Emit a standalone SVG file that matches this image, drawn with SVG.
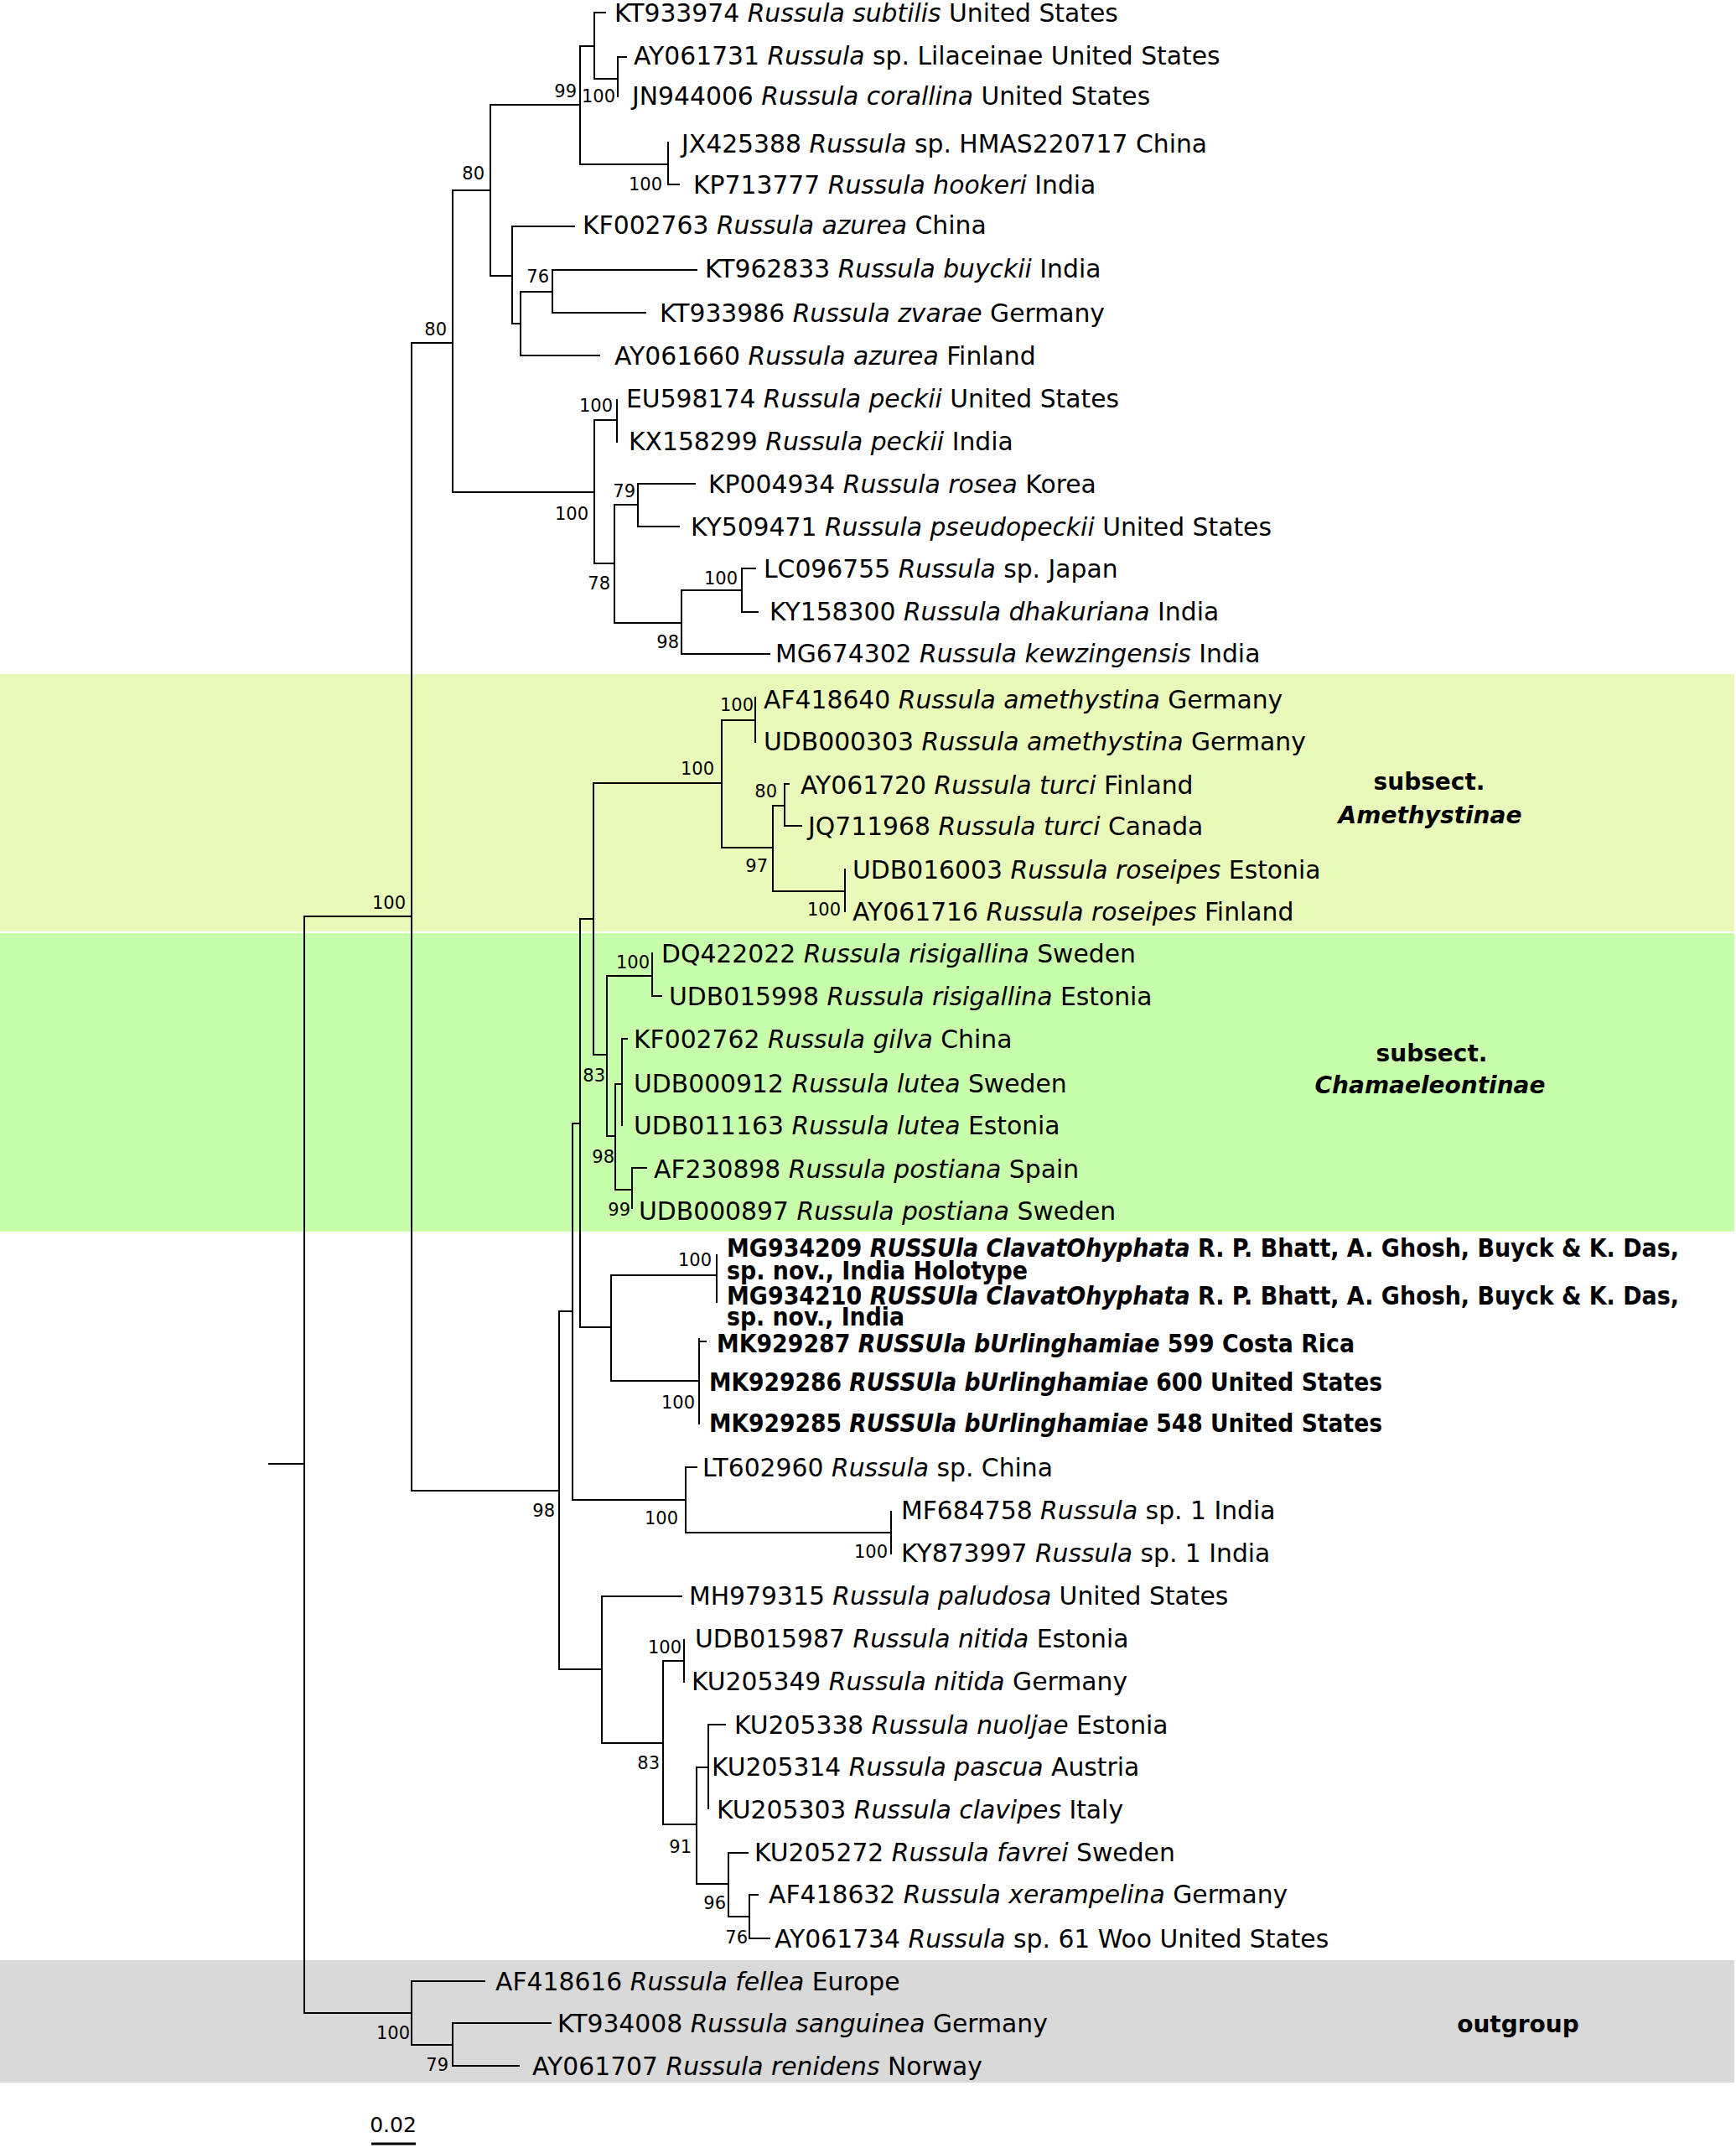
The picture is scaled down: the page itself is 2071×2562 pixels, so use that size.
<svg xmlns="http://www.w3.org/2000/svg" width="2071" height="2562" viewBox="0 0 2071 2562">
<style>
.e{stroke:#000;stroke-width:2;fill:none;stroke-linecap:square}
.lab{font-family:"DejaVu Sans","Liberation Sans",sans-serif;font-size:29.8px;fill:#000}
.it{font-style:italic}
.bd{font-family:"DejaVu Sans Condensed","DejaVu Sans",sans-serif;font-weight:bold;font-stretch:condensed;font-size:30px;fill:#000}
.sup{font-family:"DejaVu Sans","Liberation Sans",sans-serif;font-size:21px;text-anchor:end;fill:#000}
.cl{font-family:"DejaVu Sans","Liberation Sans",sans-serif;font-weight:bold;font-size:28px;text-anchor:middle;fill:#000}
</style>
<rect width="2071" height="2562" fill="#fff"/>
<g id="bands">
<rect x="0" y="804" width="2069" height="307" fill="#e9f9ba"/>
<rect x="0" y="1113" width="2069" height="356" fill="#c8fdab"/>
<rect x="0" y="2338" width="2069" height="146" fill="#d9d9d9"/>
</g>
<g id="connectors" class="e">
<path d="M321,1746H363M363,1093V2401M363,1093H491M491,409V1778M363,2401H491M491,2363V2439"/>
<path d="M491,409H540M540,227V587M540,227H585M585,125V329M585,125H692M692,55V196M692,55H709M709,15V94M709,15H722M709,94H737M737,68V115M737,68H747M692,196H797M797,170V220M797,220H810"/>
<path d="M585,329H611M611,270V386M611,270H685M611,386H621M621,348V424M621,348H659M659,322V373M659,322H831M659,373H770M621,424H715"/>
<path d="M540,587H709M709,501V672M709,501H736M736,477V527M709,672H733M733,602V743M733,602H761M761,577V628M761,577H829M761,628H810M733,743H813M813,704V780M813,704H885M885,678V730M885,678H901M885,730H904M813,780H918"/>
<path d="M491,1778H667M667,1564V1991M667,1564H683M683,1340V1789M683,1340H692M692,1096V1583M692,1096H708M708,934V1258"/>
<path d="M708,934H861M861,859V1011M861,859H901M901,832V885M861,1011H922M922,961V1063M922,961H936M936,935V985M936,935H941M936,985H956M922,1063H1008M1008,1037V1087"/>
<path d="M708,1258H724M724,1164V1355M724,1164H778M778,1137V1188M778,1188H789M724,1355H734M734,1293V1419M734,1293H742M742,1239V1342M742,1239H748M734,1419H754M754,1393V1441M754,1393H771"/>
<path d="M692,1583H729M729,1521V1647M729,1521H855M855,1497V1553M729,1647H834M834,1597V1698M834,1600H842"/>
<path d="M683,1789H818M818,1750V1828M818,1750H831M818,1828H1063M1063,1803V1853"/>
<path d="M667,1991H718M718,1904V2079M718,1904H813M718,2079H791M791,1981V2176M791,1981H816M816,1956V2006M791,2176H831M831,2108V2247M831,2108H845M845,2057V2157M845,2057H865M831,2247H869M869,2210V2286M869,2210H892M869,2286H894M894,2260V2312M894,2260H904M894,2312H918"/>
<path d="M491,2363H578M491,2439H540M540,2413V2464M540,2413H657M540,2464H619"/>
</g>
<g id="leaves">
<g id="n1"><text class="lab" x="733" y="26">KT933974 <tspan class="it">Russula subtilis</tspan> United States</text></g>
<g id="n2"><text class="lab" x="756" y="77">AY061731 <tspan class="it">Russula</tspan> sp. Lilaceinae United States</text></g>
<g id="n3"><text class="lab" x="754" y="125">JN944006 <tspan class="it">Russula corallina</tspan> United States</text></g>
<g id="n4"><text class="lab" x="813" y="182">JX425388 <tspan class="it">Russula</tspan> sp. HMAS220717 China</text></g>
<g id="n5"><text class="lab" x="827" y="231">KP713777 <tspan class="it">Russula hookeri</tspan> India</text></g>
<g id="n6"><text class="lab" x="695" y="279">KF002763 <tspan class="it">Russula azurea</tspan> China</text></g>
<g id="n7"><text class="lab" x="841" y="331">KT962833 <tspan class="it">Russula buyckii</tspan> India</text></g>
<g id="n8"><text class="lab" x="787" y="384">KT933986 <tspan class="it">Russula zvarae</tspan> Germany</text></g>
<g id="n9"><text class="lab" x="733" y="435">AY061660 <tspan class="it">Russula azurea</tspan> Finland</text></g>
<g id="n10"><text class="lab" x="747" y="486">EU598174 <tspan class="it">Russula peckii</tspan> United States</text></g>
<g id="n11"><text class="lab" x="750" y="537">KX158299 <tspan class="it">Russula peckii</tspan> India</text></g>
<g id="n12"><text class="lab" x="845" y="588">KP004934 <tspan class="it">Russula rosea</tspan> Korea</text></g>
<g id="n13"><text class="lab" x="824" y="639">KY509471 <tspan class="it">Russula pseudopeckii</tspan> United States</text></g>
<g id="n14"><text class="lab" x="911" y="689">LC096755 <tspan class="it">Russula</tspan> sp. Japan</text></g>
<g id="n15"><text class="lab" x="918" y="740">KY158300 <tspan class="it">Russula dhakuriana</tspan> India</text></g>
<g id="n16"><text class="lab" x="925" y="790">MG674302 <tspan class="it">Russula kewzingensis</tspan> India</text></g>
<g id="n17"><text class="lab" x="911" y="845">AF418640 <tspan class="it">Russula amethystina</tspan> Germany</text></g>
<g id="n18"><text class="lab" x="911" y="895">UDB000303 <tspan class="it">Russula amethystina</tspan> Germany</text></g>
<g id="n19"><text class="lab" x="955" y="947">AY061720 <tspan class="it">Russula turci</tspan> Finland</text></g>
<g id="n20"><text class="lab" x="964" y="996">JQ711968 <tspan class="it">Russula turci</tspan> Canada</text></g>
<g id="n21"><text class="lab" x="1017" y="1048">UDB016003 <tspan class="it">Russula roseipes</tspan> Estonia</text></g>
<g id="n22"><text class="lab" x="1017" y="1098">AY061716 <tspan class="it">Russula roseipes</tspan> Finland</text></g>
<g id="n23"><text class="lab" x="789" y="1148">DQ422022 <tspan class="it">Russula risigallina</tspan> Sweden</text></g>
<g id="n24"><text class="lab" x="798" y="1199">UDB015998 <tspan class="it">Russula risigallina</tspan> Estonia</text></g>
<g id="n25"><text class="lab" x="756" y="1250">KF002762 <tspan class="it">Russula gilva</tspan> China</text></g>
<g id="n26"><text class="lab" x="756" y="1303">UDB000912 <tspan class="it">Russula lutea</tspan> Sweden</text></g>
<g id="n27"><text class="lab" x="756" y="1353">UDB011163 <tspan class="it">Russula lutea</tspan> Estonia</text></g>
<g id="n28"><text class="lab" x="780" y="1405">AF230898 <tspan class="it">Russula postiana</tspan> Spain</text></g>
<g id="n29"><text class="lab" x="762" y="1455">UDB000897 <tspan class="it">Russula postiana</tspan> Sweden</text></g>
<g id="n30"><text class="bd" x="867" y="1499" textLength="1136" lengthAdjust="spacingAndGlyphs">MG934209 <tspan class="it">RUSSUla ClavatOhyphata</tspan> R. P. Bhatt, A. Ghosh, Buyck &amp; K. Das,</text>
<text class="bd" x="867" y="1526" textLength="359" lengthAdjust="spacingAndGlyphs">sp. nov., India Holotype</text></g>
<g id="n31"><text class="bd" x="867" y="1556" textLength="1136" lengthAdjust="spacingAndGlyphs">MG934210 <tspan class="it">RUSSUla ClavatOhyphata</tspan> R. P. Bhatt, A. Ghosh, Buyck &amp; K. Das,</text>
<text class="bd" x="867" y="1581" textLength="212" lengthAdjust="spacingAndGlyphs">sp. nov., India</text></g>
<g id="n32"><text class="bd" x="855" y="1613" textLength="761" lengthAdjust="spacingAndGlyphs">MK929287 <tspan class="it">RUSSUla bUrlinghamiae</tspan> 599 Costa Rica</text></g>
<g id="n33"><text class="bd" x="846" y="1659" textLength="803" lengthAdjust="spacingAndGlyphs">MK929286 <tspan class="it">RUSSUla bUrlinghamiae</tspan> 600 United States</text></g>
<g id="n34"><text class="bd" x="846" y="1708" textLength="803" lengthAdjust="spacingAndGlyphs">MK929285 <tspan class="it">RUSSUla bUrlinghamiae</tspan> 548 United States</text></g>
<g id="n35"><text class="lab" x="838" y="1761">LT602960 <tspan class="it">Russula</tspan> sp. China</text></g>
<g id="n36"><text class="lab" x="1075" y="1812">MF684758 <tspan class="it">Russula</tspan> sp. 1 India</text></g>
<g id="n37"><text class="lab" x="1075" y="1863">KY873997 <tspan class="it">Russula</tspan> sp. 1 India</text></g>
<g id="n38"><text class="lab" x="822" y="1914">MH979315 <tspan class="it">Russula paludosa</tspan> United States</text></g>
<g id="n39"><text class="lab" x="829" y="1965">UDB015987 <tspan class="it">Russula nitida</tspan> Estonia</text></g>
<g id="n40"><text class="lab" x="825" y="2016">KU205349 <tspan class="it">Russula nitida</tspan> Germany</text></g>
<g id="n41"><text class="lab" x="876" y="2068">KU205338 <tspan class="it">Russula nuoljae</tspan> Estonia</text></g>
<g id="n42"><text class="lab" x="849" y="2118">KU205314 <tspan class="it">Russula pascua</tspan> Austria</text></g>
<g id="n43"><text class="lab" x="855" y="2169">KU205303 <tspan class="it">Russula clavipes</tspan> Italy</text></g>
<g id="n44"><text class="lab" x="900" y="2220">KU205272 <tspan class="it">Russula favrei</tspan> Sweden</text></g>
<g id="n45"><text class="lab" x="917" y="2270">AF418632 <tspan class="it">Russula xerampelina</tspan> Germany</text></g>
<g id="n46"><text class="lab" x="924" y="2323">AY061734 <tspan class="it">Russula</tspan> sp. 61 Woo United States</text></g>
<g id="n47"><text class="lab" x="591" y="2374">AF418616 <tspan class="it">Russula fellea</tspan> Europe</text></g>
<g id="n48"><text class="lab" x="665" y="2424">KT934008 <tspan class="it">Russula sanguinea</tspan> Germany</text></g>
<g id="n49"><text class="lab" x="635" y="2475">AY061707 <tspan class="it">Russula renidens</tspan> Norway</text></g>
</g>
<g id="support">
<text class="sup" x="688" y="116">99</text>
<text class="sup" x="734" y="122">100</text>
<text class="sup" x="790" y="227">100</text>
<text class="sup" x="578" y="214">80</text>
<text class="sup" x="655" y="337">76</text>
<text class="sup" x="533" y="400">80</text>
<text class="sup" x="731" y="491">100</text>
<text class="sup" x="702" y="620">100</text>
<text class="sup" x="758" y="593">79</text>
<text class="sup" x="728" y="703">78</text>
<text class="sup" x="880" y="697">100</text>
<text class="sup" x="810" y="773">98</text>
<text class="sup" x="484" y="1084">100</text>
<text class="sup" x="899" y="848">100</text>
<text class="sup" x="852" y="924">100</text>
<text class="sup" x="927" y="951">80</text>
<text class="sup" x="916" y="1040">97</text>
<text class="sup" x="1003" y="1092">100</text>
<text class="sup" x="775" y="1155">100</text>
<text class="sup" x="722" y="1290">83</text>
<text class="sup" x="733" y="1387">98</text>
<text class="sup" x="752" y="1450">99</text>
<text class="sup" x="849" y="1510">100</text>
<text class="sup" x="829" y="1680">100</text>
<text class="sup" x="662" y="1809">98</text>
<text class="sup" x="809" y="1818">100</text>
<text class="sup" x="1059" y="1858">100</text>
<text class="sup" x="813" y="1972">100</text>
<text class="sup" x="787" y="2110">83</text>
<text class="sup" x="825" y="2210">91</text>
<text class="sup" x="866" y="2277">96</text>
<text class="sup" x="892" y="2318">76</text>
<text class="sup" x="489" y="2432">100</text>
<text class="sup" x="535" y="2470">79</text>
</g>
<g id="clades">
<g id="amethystinae"><text class="cl" x="1705" y="942">subsect.</text><text class="cl" x="1706" y="982"><tspan font-style="italic">Amethystinae</tspan></text></g>
<g id="chamaeleontinae"><text class="cl" x="1708" y="1266">subsect.</text><text class="cl" x="1706" y="1304"><tspan font-style="italic">Chamaeleontinae</tspan></text></g>
<g id="outgroup"><text class="cl" x="1811" y="2424">outgroup</text></g>
</g>
<g id="scalebar">
<path d="M443,2557H496" stroke="#000" stroke-width="3"/>
<text x="469" y="2543" text-anchor="middle" font-family="DejaVu Sans, sans-serif" font-size="25">0.02</text>
</g>
</svg>
